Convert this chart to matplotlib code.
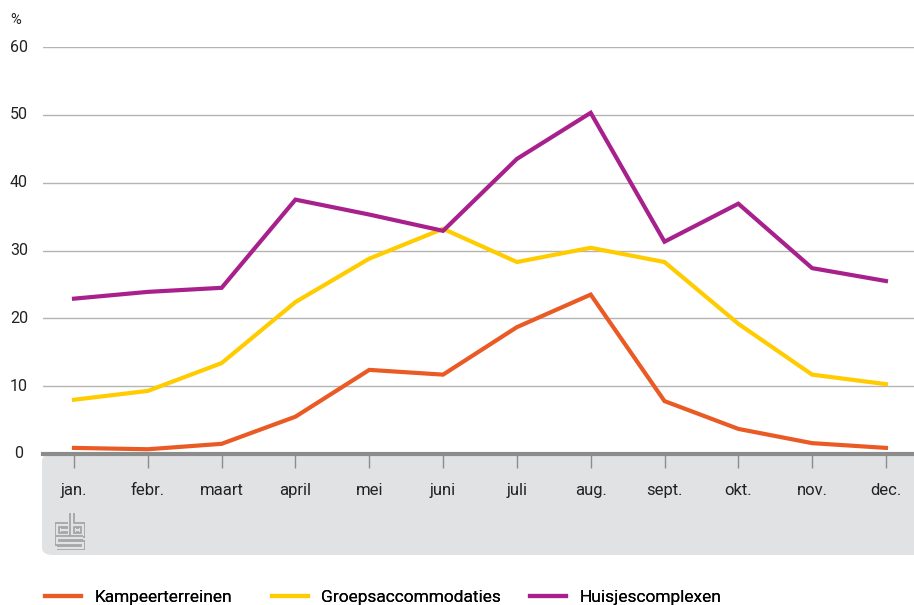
import matplotlib.pyplot as plt
from matplotlib.patches import FancyBboxPatch

months = ['jan.', 'febr.', 'maart', 'april', 'mei', 'juni', 'juli', 'aug.',
          'sept.', 'okt.', 'nov.', 'dec.']
kampeer = [0.9, 0.7, 1.5, 5.5, 12.4, 11.7, 18.7, 23.5, 7.8, 3.7, 1.6, 0.9]
groeps = [8.0, 9.3, 13.4, 22.4, 28.8, 33.2, 28.3, 30.4, 28.3, 19.2, 11.7, 10.3]
huisjes = [22.9, 23.9, 24.5, 37.5, 35.3, 32.9, 43.5, 50.3, 31.3, 36.9, 27.4, 25.5]
series_names = ['Kampeerterreinen', 'Groepsaccommodaties', 'Huisjescomplexen']
colors = ['#EA5A24', '#FFCC00', '#A8208C']
yticks = [0, 10, 20, 30, 40, 50, 60]

plt.rcParams['font.family'] = ['Roboto', 'DejaVu Sans']

W, H = 914, 605
panel_col = '#E1E2E4'
fig = plt.figure(figsize=(W / 100, H / 100), dpi=100)

# grey panel under the axis
panel = FancyBboxPatch((42 / W, (H - 555) / H), (W - 42) / W + 0.02, (555 - 454) / H,
                       boxstyle='round,pad=0,rounding_size=0.012',
                       transform=fig.transFigure, facecolor=panel_col,
                       edgecolor='none', zorder=-5)
fig.patches.append(panel)

ax = fig.add_axes([43 / W, (H - 454) / H, (W - 43) / W, (454 - 47) / H])
ax.set_facecolor('none')
x = list(range(len(months)))
lines = []
for vals, col, name in zip([kampeer, groeps, huisjes], colors, series_names):
    ln, = ax.plot(x, vals, color=col, lw=3, label=name, zorder=3, solid_joinstyle='miter')
    lines.append(ln)

ax.set_xlim(-0.42, 11.38)
ax.set_ylim(0, 60)
ax.set_yticks(yticks)
ax.yaxis.grid(True, color='#B4B4B4', lw=1)
ax.set_axisbelow(True)
ax.tick_params(axis='y', length=0, labelleft=False)
for t in yticks:
    ax.text(-0.42 - 24 / 73.8, t, str(t), ha='center', va='center',
            fontsize=11.5, color='#222222', transform=ax.transData, clip_on=False)
ax.text(10 / W, (H - 20) / H, '%', transform=fig.transFigure, fontsize=10.5,
        color='#222222', ha='left', va='center')

for s in ['top', 'right', 'left']:
    ax.spines[s].set_visible(False)
ax.spines['bottom'].set_color('#8C8C8C')
ax.spines['bottom'].set_linewidth(3)
ax.spines['bottom'].set_zorder(4)
ax.set_xticks(x)
ax.set_xticklabels(months, fontsize=12, color='#222222')
ax.tick_params(axis='x', length=10, width=1, color='#8C8C8C', pad=11, direction='out')

# cbs logo, drawn as double-stroked paths
logo = fig.add_axes([55 / W, (H - 550) / H, 30 / W, 39 / H])
logo.axis('off')
logo.set_xlim(0, 30)
logo.set_ylim(0, 39)
gc = '#A6A6A6'
paths = [
    [(13, 25), (2, 25), (2, 15), (13, 15)],                 # c
    [(13, 20), (6, 20)],
    [(17, 37), (17, 15), (28, 15), (28, 25), (17, 25)],     # b
    [(21, 20), (24, 20)],
    [(28, 12), (2, 12), (2, 7), (28, 7), (28, 2), (2, 2)],  # s
]
for p in paths:
    xs, ys = zip(*p)
    logo.plot(xs, ys, color=gc, lw=4.2, solid_capstyle='butt', solid_joinstyle='miter')
    logo.plot(xs, ys, color=panel_col, lw=1.6, solid_capstyle='butt', solid_joinstyle='miter')

# one legend per series, each at its own spot along the bottom
legend_x = [45, 272, 530]
for ln, lx in zip(lines, legend_x):
    leg = fig.legend([ln], [ln.get_label()], loc='center left',
                     bbox_to_anchor=(lx / W, (H - 597) / H), frameon=False,
                     fontsize=12.5, handlelength=2.1, handletextpad=0.75,
                     borderpad=0, borderaxespad=0)
    fig.add_artist(leg)

fig.savefig('out.png', dpi=100)
